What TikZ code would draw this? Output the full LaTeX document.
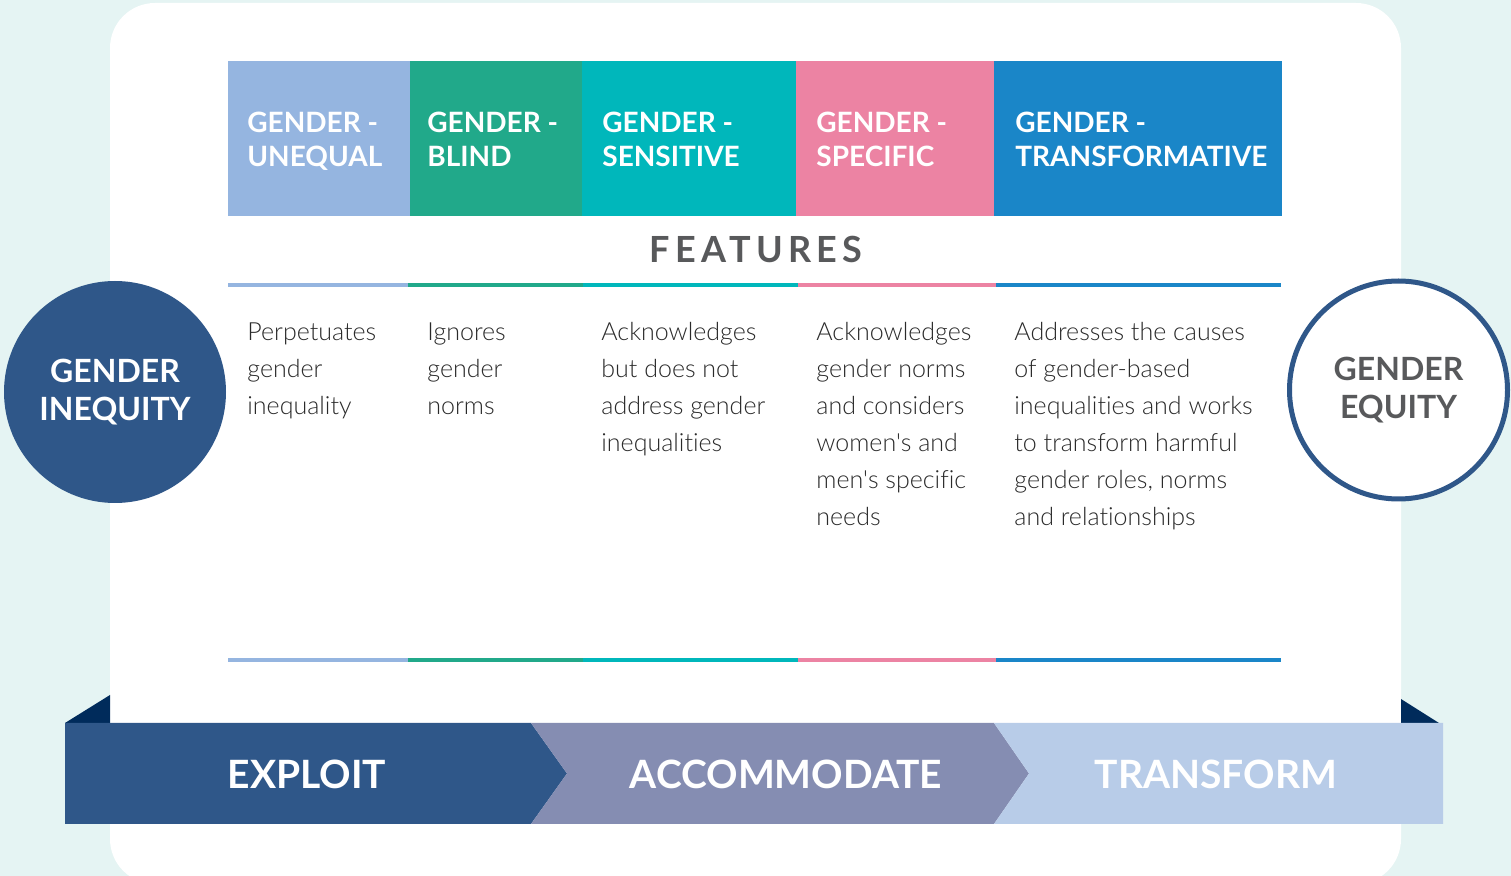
\documentclass[tikz,border=0pt]{standalone}
\usepackage{fontspec}
\setmainfont{Lato}
\newfontfamily\bodyfont{Lato Light}[Ligatures=NoCommon]
\definecolor{bgteal}{HTML}{E5F4F3}
\definecolor{navy}{HTML}{2F5789}
\definecolor{deepnavy}{HTML}{002B5B}
\definecolor{cunequal}{HTML}{95B5E0}
\definecolor{cblind}{HTML}{21A98A}
\definecolor{csensitive}{HTML}{00B7BB}
\definecolor{cspecific}{HTML}{EC83A3}
\definecolor{ctransf}{HTML}{1A86C8}
\definecolor{caccom}{HTML}{858DB2}
\definecolor{ctransform}{HTML}{B8CCE8}
\definecolor{graytext}{HTML}{58595B}
\definecolor{bodytext}{HTML}{2A2A2A}
\begin{document}
\begin{tikzpicture}[x=0.5pt,y=-0.5pt,
  % multi-line nodes are placed by the baseline of their last line
  headtext/.style={anchor=base west, align=left, text=white, inner sep=0pt,
    font=\bfseries\fontsize{14}{17}\selectfont},
  bodytxt/.style={anchor=base west, align=left, text=bodytext, inner sep=0pt,
    font=\bodyfont\fontsize{12.5}{18.5}\selectfont},
  bandtext/.style={anchor=base, text=white, inner sep=0pt,
    font=\bfseries\fontsize{19.5}{23}\selectfont},
  rule/.style={line width=2pt},
  endcircle/.style={circle, inner sep=0pt, align=center,
    font=\bfseries\fontsize{16}{19.2}\selectfont}]
\useasboundingbox (0,0) rectangle (1511,876);
\clip (0,0) rectangle (1511,876);
% backdrop and card
\fill[bgteal] (0,0) rectangle (1511,876);
\fill[white, rounded corners=22.5pt] (110,3) rectangle (1401,884);

% header blocks
\fill[cunequal]   (228,61) rectangle (410,216);
\fill[cblind]     (410,61) rectangle (582,216);
\fill[csensitive] (582,61) rectangle (796,216);
\fill[cspecific]  (796,61) rectangle (994,216);
\fill[ctransf]    (994,61) rectangle (1282,216);
\node[headtext] (h1) at (247,167)  {GENDER -\\UNEQUAL};
\node[headtext] (h2) at (427,167)  {GENDER -\\BLIND};
\node[headtext] (h3) at (602,167)  {GENDER -\\SENSITIVE};
\node[headtext] (h4) at (816,167)  {GENDER -\\SPECIFIC};
\node[headtext] (h5) at (1015,167) {GENDER -\\TRANSFORMATIVE};

% section title
\node[anchor=base west, inner sep=0pt, text=graytext,
  font=\bfseries\fontsize{18}{22}\selectfont\addfontfeature{LetterSpace=15}]
  (features) at (649,263) {FEATURES};

% coloured rules above and below the features
\foreach \y in {285.5,660.5}{
  \draw[rule, cunequal]   (228,\y) -- (408,\y);
  \draw[rule, cblind]     (408,\y) -- (583,\y);
  \draw[rule, csensitive] (583,\y) -- (798,\y);
  \draw[rule, cspecific]  (798,\y) -- (996,\y);
  \draw[rule, ctransf]    (996,\y) -- (1281,\y);
}

% feature descriptions (first baseline at 341, 37 units per line)
\node[bodytxt] (f1) at (247,415)  {Perpetuates\\gender\\inequality};
\node[bodytxt] (f2) at (427,415)  {Ignores\\gender\\norms};
\node[bodytxt] (f3) at (601,452)  {Acknowledges\\but does not\\address gender\\inequalities};
\node[bodytxt] (f4) at (816,526)  {Acknowledges\\gender norms\\and considers\\women's and\\men's specific\\needs};
\node[bodytxt] (f5) at (1014,526) {Addresses the causes\\of gender-based\\inequalities and works\\to transform harmful\\gender roles, norms\\and relationships};

% end points of the scale
\node[endcircle, fill=navy, text=white, minimum size=111pt] (inequity) at (115,392) {GENDER\\INEQUITY};
\node[endcircle, fill=white, draw=navy, line width=2.5pt, text=graytext, minimum size=109pt] (equity) at (1398.5,390) {GENDER\\EQUITY};

% folded ribbon ends
\fill[deepnavy] (65,723) -- (110,695) -- (110,723) -- cycle;
\fill[deepnavy] (1401,699) -- (1439,723) -- (1401,723) -- cycle;

% ribbon segments
\fill[navy] (65,723) -- (531,723) -- (567,773.5) -- (531,824) -- (65,824) -- cycle;
\fill[caccom] (531,723) -- (994,723) -- (1029,773.5) -- (994,824) -- (531,824) -- (567,773.5) -- cycle;
\fill[ctransform] (994,723) -- (1443,723) -- (1443,824) -- (994,824) -- (1029,773.5) -- cycle;
\node[bandtext] (exploit) at (307,789)  {EXPLOIT};
\node[bandtext] (accom)   at (786,789)  {ACCOMMODATE};
\node[bandtext] (transf)  at (1216,789) {TRANSFORM};
\end{tikzpicture}
\end{document}
